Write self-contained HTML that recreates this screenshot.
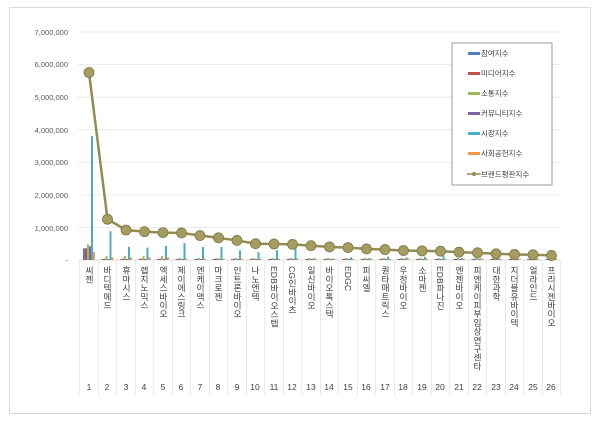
<!DOCTYPE html>
<html><head><meta charset="utf-8"><style>
body{margin:0;background:#fff;width:600px;height:421px;overflow:hidden;font-family:"Liberation Sans","Noto Sans CJK KR",sans-serif}
.frame{position:absolute;left:9px;top:7px;width:582px;height:407px;border:1px solid #d9d9d9;box-sizing:border-box}
.lab{position:absolute;top:266px;writing-mode:vertical-rl;text-orientation:mixed;font-size:8.7px;color:#404040;line-height:10px;letter-spacing:0}
.num{position:absolute;top:382px;font-size:8.5px;color:#404040;width:18px;text-align:center}
</style></head><body>
<div class="frame"></div>
<svg id="s" width="600" height="421" style="position:absolute;left:0;top:0" font-family="Liberation Sans" font-size="7.5" fill="#595959">
<g id="grid"></g>
<g text-anchor="end">
<text x="68" y="35">7,000,000</text><text x="68" y="67">6,000,000</text><text x="68" y="100">5,000,000</text>
<text x="68" y="133">4,000,000</text><text x="68" y="165">3,000,000</text><text x="68" y="198">2,000,000</text>
<text x="68" y="231">1,000,000</text><text x="68" y="263">-</text>
</g>
<g id="bars"></g><g id="line"></g>
<rect x="452" y="43" width="100" height="142" fill="#fff" stroke="#808080" stroke-width="0.8"/>
<g font-family="Liberation Sans,Noto Sans CJK KR" font-size="7.5" fill="#404040">
<rect x="468" y="52" width="12" height="3" fill="#4f81bd"/><text x="481" y="56">참여지수</text>
<rect x="468" y="72" width="12" height="3" fill="#c0504d"/><text x="481" y="76">미디어지수</text>
<rect x="468" y="92" width="12" height="3" fill="#9bbb59"/><text x="481" y="96">소통지수</text>
<rect x="468" y="112" width="12" height="3" fill="#8064a2"/><text x="481" y="116">커뮤니티지수</text>
<rect x="468" y="132" width="12" height="3" fill="#4bacc6"/><text x="481" y="136">시장지수</text>
<rect x="468" y="152" width="12" height="3" fill="#f79646"/><text x="481" y="156">사회공헌지수</text>
<line x1="467" y1="174" x2="481" y2="174" stroke="#948a54" stroke-width="1.5"/><circle cx="474" cy="174" r="2" fill="#948a54"/><text x="481" y="177">브랜드평판지수</text>
</g>
</svg>
<div class="lab" style="left:84px">씨젠</div>
<div class="lab" style="left:102px">바디텍메드</div>
<div class="lab" style="left:121px">휴마시스</div>
<div class="lab" style="left:139px">랩지노믹스</div>
<div class="lab" style="left:158px">엑세스바이오</div>
<div class="lab" style="left:176px">제이에스링크</div>
<div class="lab" style="left:195px">엔케이맥스</div>
<div class="lab" style="left:213px">마크로젠</div>
<div class="lab" style="left:232px">인트론바이오</div>
<div class="lab" style="left:250px">나노엔텍</div>
<div class="lab" style="left:269px">EDB바이오스텝</div>
<div class="lab" style="left:287px">CG인바이츠</div>
<div class="lab" style="left:306px">일신바이오</div>
<div class="lab" style="left:324px">바이오톡스텍</div>
<div class="lab" style="left:343px">EDGC</div>
<div class="lab" style="left:361px">피씨엘</div>
<div class="lab" style="left:380px">퀀타매트릭스</div>
<div class="lab" style="left:398px">우정바이오</div>
<div class="lab" style="left:417px">소마젠</div>
<div class="lab" style="left:435px">EDB파나진</div>
<div class="lab" style="left:454px">엔젠바이오</div>
<div class="lab" style="left:472px">피엔케이피부임상연구센타</div>
<div class="lab" style="left:491px">대한과학</div>
<div class="lab" style="left:509px">지더블유바이텍</div>
<div class="lab" style="left:528px">얼라인드</div>
<div class="lab" style="left:546px">프리시젠바이오</div>
<div class="num" style="left:80px">1</div><div class="num" style="left:98px">2</div><div class="num" style="left:117px">3</div><div class="num" style="left:135px">4</div><div class="num" style="left:154px">5</div><div class="num" style="left:172px">6</div><div class="num" style="left:191px">7</div><div class="num" style="left:209px">8</div><div class="num" style="left:228px">9</div><div class="num" style="left:246px">10</div><div class="num" style="left:265px">11</div><div class="num" style="left:283px">12</div><div class="num" style="left:302px">13</div><div class="num" style="left:320px">14</div><div class="num" style="left:339px">15</div><div class="num" style="left:357px">16</div><div class="num" style="left:376px">17</div><div class="num" style="left:394px">18</div><div class="num" style="left:413px">19</div><div class="num" style="left:431px">20</div><div class="num" style="left:450px">21</div><div class="num" style="left:468px">22</div><div class="num" style="left:487px">23</div><div class="num" style="left:505px">24</div><div class="num" style="left:524px">25</div><div class="num" style="left:542px">26</div>
<script>
var NS="http://www.w3.org/2000/svg";
function el(p,t,a){var e=document.createElementNS(NS,t);for(var k in a)e.setAttribute(k,a[k]);document.getElementById(p).appendChild(e);return e;}
var y0=260,k=32.6/1e6;
for(var i=0;i<7;i++){var y=32+i*32.6;el("grid","line",{x1:78,x2:560,y1:y,y2:y,stroke:"#e6e6e6","stroke-width":0.8});}
el("grid","line",{x1:78,x2:560,y1:260,y2:260,stroke:"#d9d9d9","stroke-width":0.8});
for(var i=0;i<=26;i++){var x=79.8+i*18.5;el("grid","line",{x1:x,x2:x,y1:260,y2:395,stroke:"#d9d9d9","stroke-width":0.6});}
var L=[5.75,1.25,0.92,0.87,0.84,0.83,0.75,0.68,0.6,0.5,0.49,0.48,0.44,0.4,0.38,0.34,0.32,0.29,0.28,0.27,0.24,0.22,0.19,0.17,0.16,0.14];
var M=[3.8,0.88,0.4,0.38,0.43,0.52,0.4,0.4,0.3,0.24,0.3,0.35,0.05,0.04,0.08,0.06,0.1,0.08,0.1,0.12,0.06,0.05,0.04,0.03,0.03,0.03];
var cols=["#4f81bd","#c0504d","#9bbb59","#8064a2","#4bacc6","#f79646"];
for(var i=0;i<26;i++){var cx=89+i*18.5;
 var v=i==0?[0.36,0.36,0.48,0.42,M[0],0.25]:[0.03,0.04,i<5?0.12:0.06,0.03,M[i],i<5?0.08:0.04];
 for(var j=0;j<6;j++){var h=v[j]*1e6*k;el("bars","rect",{x:cx-6+j*2,y:y0-h,width:2,height:h,fill:cols[j]});}}
var pts=L.map(function(v,i){return (89+i*18.5)+","+(y0-v*1e6*k)}).join(" ");
el("line","polyline",{points:pts,fill:"none",stroke:"#948a54","stroke-width":2.5});
L.forEach(function(v,i){el("line","circle",{cx:89+i*18.5,cy:y0-v*1e6*k,r:5,fill:"#a59c5f",stroke:"#7f7642","stroke-width":0.8});});
</script>
</body></html>
